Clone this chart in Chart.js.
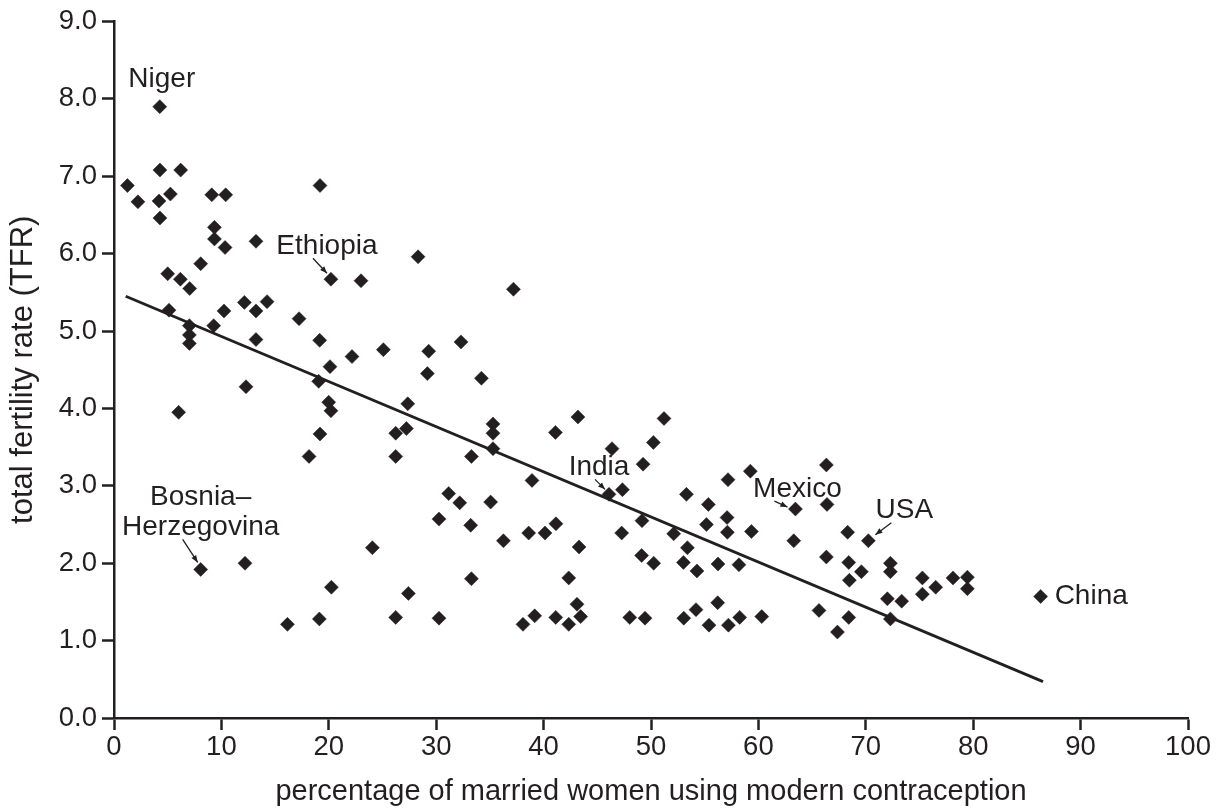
<!DOCTYPE html>
<html>
<head>
<meta charset="utf-8">
<script src="https://cdn.jsdelivr.net/npm/chart.js@4/dist/chart.umd.min.js"></script>
<style>
  html, body { margin: 0; padding: 0; background: #ffffff; }
  #wrap { width: 1225px; height: 812px; }
</style>
</head>
<body>
<div id="wrap"><canvas id="c" width="1225" height="812" style="width:1225px;height:812px"></canvas></div>
<script>
// ---- DATA ----
// percentage of married women using modern contraception
const contraceptionPct = [
  4.26, 4.28, 6.21, 1.25, 19.18, 2.23, 4.19, 5.25, 9.10, 10.40,
  4.28, 9.35, 9.35, 10.34, 13.22, 8.07, 5.00, 6.18, 7.05, 20.20,
  23.00, 5.12, 7.02, 7.02, 7.02, 9.28, 10.24, 12.14, 13.22, 14.25,
  17.23, 13.22, 19.15, 22.16, 20.11, 25.08, 6.02, 12.29, 19.06, 19.99,
  20.20, 19.18, 18.16, 26.23, 26.23, 8.07, 12.20, 24.06, 20.24, 16.15,
  19.12, 26.23, 28.31, 37.19, 29.30, 32.31, 29.18, 34.21, 27.35, 27.23,
  35.29, 35.29, 35.29, 33.28, 41.10, 43.20, 46.37, 50.22, 51.21, 49.26,
  38.92, 47.34, 46.09, 31.16, 32.19, 35.07, 30.26, 33.21, 49.16, 52.11,
  47.27, 36.26, 38.61, 40.13, 41.15, 43.30, 49.13, 50.25, 33.28, 42.34,
  27.41, 43.11, 30.26, 38.08, 39.17, 41.13, 42.34, 43.45, 48.02, 49.44,
  66.33, 59.25, 57.17, 53.30, 55.34, 63.45, 66.39, 57.08, 55.16, 57.11,
  59.35, 68.31, 70.24, 63.29, 53.39, 53.02, 54.28, 56.24, 58.19, 66.33,
  68.41, 69.59, 68.47, 72.29, 72.29, 72.01, 56.21, 54.19, 53.05, 55.40,
  57.21, 58.26, 60.31, 65.64, 68.41, 67.36, 72.29, 75.27, 76.51, 75.27,
  78.12, 79.46, 79.46, 73.34, 86.28
];
// total fertility rate (TFR)
const fertilityRate = [
  7.90, 7.08, 7.08, 6.88, 6.88, 6.67, 6.68, 6.77, 6.76, 6.76,
  6.46, 6.34, 6.19, 6.08, 6.16, 5.87, 5.74, 5.67, 5.55, 5.67,
  5.65, 5.27, 5.07, 4.95, 4.84, 5.07, 5.26, 5.37, 5.26, 5.38,
  5.16, 4.89, 4.88, 4.67, 4.54, 4.76, 3.95, 4.28, 4.35, 4.08,
  3.97, 3.67, 3.38, 3.68, 3.38, 1.92, 2.00, 2.20, 1.69, 1.21,
  1.28, 1.30, 5.96, 5.54, 4.74, 4.86, 4.45, 4.39, 4.06, 3.74,
  3.80, 3.68, 3.48, 3.38, 3.69, 3.89, 3.48, 3.56, 3.87, 3.28,
  3.07, 2.95, 2.89, 2.90, 2.78, 2.79, 2.57, 2.49, 2.55, 2.38,
  2.39, 2.29, 2.39, 2.39, 2.51, 2.21, 2.10, 2.00, 1.80, 1.81,
  1.61, 1.47, 1.29, 1.21, 1.32, 1.30, 1.21, 1.31, 1.30, 1.29,
  3.27, 3.19, 3.08, 2.89, 2.76, 2.70, 2.76, 2.59, 2.50, 2.40,
  2.41, 2.40, 2.29, 2.29, 2.20, 2.01, 1.90, 1.99, 1.98, 2.08,
  2.01, 1.89, 1.78, 2.00, 1.89, 1.54, 1.49, 1.40, 1.29, 1.20,
  1.20, 1.30, 1.31, 1.39, 1.30, 1.11, 1.28, 1.81, 1.69, 1.60,
  1.81, 1.82, 1.67, 1.51, 1.57
];
// regression line end points
const trendX = [1.09, 86.5];
const trendY = [5.45, 0.47];
// labelled countries and the values of the points they name
const labelNames = ['Niger', 'Ethiopia', 'Bosnia–\nHerzegovina', 'India', 'Mexico', 'USA', 'China'];
const labelX = [4.26, 20.20, 8.07, 46.09, 63.45, 70.24, 86.28];
const labelY = [7.90, 5.67, 1.92, 2.89, 2.70, 2.29, 1.57];
// axis ticks
const xTicks = [0, 10, 20, 30, 40, 50, 60, 70, 80, 90, 100];
const yTicks = [0, 1, 2, 3, 4, 5, 6, 7, 8, 9];

// ---- STYLE / LAYOUT ----
const INK = '#231f20';
const FONT = '"Liberation Sans", Arial, Helvetica, sans-serif';
// label placement relative to the labelled point (pixels): text centre, arrow start/end
const labelStyle = [
  { dx: 2,   dy: -27, align: 'center', arrow: null },
  { dx: -4,  dy: -33, align: 'center', arrow: [-18, -21, -4, -6] },
  { dx: 0,   dy: -72, lineGap: 30, align: 'center', arrow: [-18, -30, -3, -7] },
  { dx: -10, dy: -27, align: 'center', arrow: [-14, -15, -4, -5] },
  { dx: 2,   dy: -20, align: 'center', arrow: [-21, -8, -8, -2] },
  { dx: 36,  dy: -30, align: 'center', arrow: [23, -18, 7, -6] },
  { dx: 14,  dy: 0,   align: 'left',   arrow: null }
];

const points = contraceptionPct.map((x, i) => ({ x: x, y: fertilityRate[i] }));
const trend = trendX.map((x, i) => ({ x: x, y: trendY[i] }));

const annotationPlugin = {
  id: 'countryLabels',
  afterDatasetsDraw(chart) {
    const ctx = chart.ctx;
    const xs = chart.scales.x, ys = chart.scales.y;
    ctx.save();
    ctx.fillStyle = INK;
    ctx.strokeStyle = INK;
    ctx.font = '28px ' + FONT;
    ctx.textBaseline = 'middle';
    labelNames.forEach((name, i) => {
      const st = labelStyle[i];
      const px = xs.getPixelForValue(labelX[i]);
      const py = ys.getPixelForValue(labelY[i]);
      ctx.textAlign = st.align;
      const lines = name.split('\n');
      lines.forEach((ln, k) => {
        ctx.fillText(ln, px + st.dx, py + st.dy + k * (st.lineGap || 30));
      });
      if (st.arrow) {
        const [x1, y1, x2, y2] = st.arrow;
        const sx = px + x1, sy = py + y1, ex = px + x2, ey = py + y2;
        ctx.lineWidth = 1.3;
        ctx.beginPath();
        ctx.moveTo(sx, sy);
        ctx.lineTo(ex, ey);
        ctx.stroke();
        const ang = Math.atan2(ey - sy, ex - sx);
        const L = 7, W = 2.8;
        ctx.beginPath();
        ctx.moveTo(ex, ey);
        ctx.lineTo(ex - L * Math.cos(ang) + W * Math.sin(ang), ey - L * Math.sin(ang) - W * Math.cos(ang));
        ctx.lineTo(ex - L * Math.cos(ang) - W * Math.sin(ang), ey - L * Math.sin(ang) + W * Math.cos(ang));
        ctx.closePath();
        ctx.fill();
      }
    });
    ctx.restore();
  }
};

new Chart(document.getElementById('c'), {
  type: 'scatter',
  data: {
    datasets: [
      {
        data: points,
        pointStyle: 'rectRot',
        pointRadius: 7,
        backgroundColor: INK,
        borderColor: INK,
        borderWidth: 0.5,
        order: 1
      },
      {
        type: 'line',
        data: trend,
        borderColor: INK,
        borderWidth: 2.8,
        pointRadius: 0,
        fill: false,
        tension: 0,
        order: 0
      }
    ]
  },
  options: {
    responsive: false,
    animation: false,
    devicePixelRatio: 1,
    layout: { padding: { top: 19, right: 37, left: 0, bottom: 0 } },
    plugins: { legend: { display: false }, tooltip: { enabled: false } },
    scales: {
      x: {
        type: 'linear',
        min: 0, max: 100,
        afterBuildTicks: s => { s.ticks = xTicks.map(v => ({ value: v })); },
        afterFit: s => { s.height = 94; },
        ticks: {
          color: INK, font: { family: FONT, size: 27.5 }, padding: 1,
          maxRotation: 0, autoSkip: false,
          callback: v => String(v)
        },
        grid: { drawOnChartArea: false, drawTicks: true, tickLength: 12, tickWidth: 2.5, tickColor: INK },
        border: { display: true, color: INK, width: 2.5 },
        title: {
          display: true, text: 'percentage of married women using modern contraception',
          color: INK, font: { family: FONT, size: 29 }, padding: { top: 0, bottom: 3 }
        }
      },
      y: {
        type: 'linear',
        min: 0, max: 9,
        afterBuildTicks: s => { s.ticks = yTicks.map(v => ({ value: v })); },
        afterFit: s => { s.width = 114; },
        ticks: {
          color: INK, font: { family: FONT, size: 27.5 }, padding: 5,
          autoSkip: false,
          callback: v => Number(v).toFixed(1)
        },
        grid: { drawOnChartArea: false, drawTicks: true, tickLength: 12, tickWidth: 2.5, tickColor: INK },
        border: { display: true, color: INK, width: 2.5 },
        title: {
          display: true, text: 'total fertility rate (TFR)',
          color: INK, font: { family: FONT, size: 31 }, padding: { top: 5, bottom: 0 }
        }
      }
    }
  },
  plugins: [annotationPlugin]
});
</script>
</body>
</html>
